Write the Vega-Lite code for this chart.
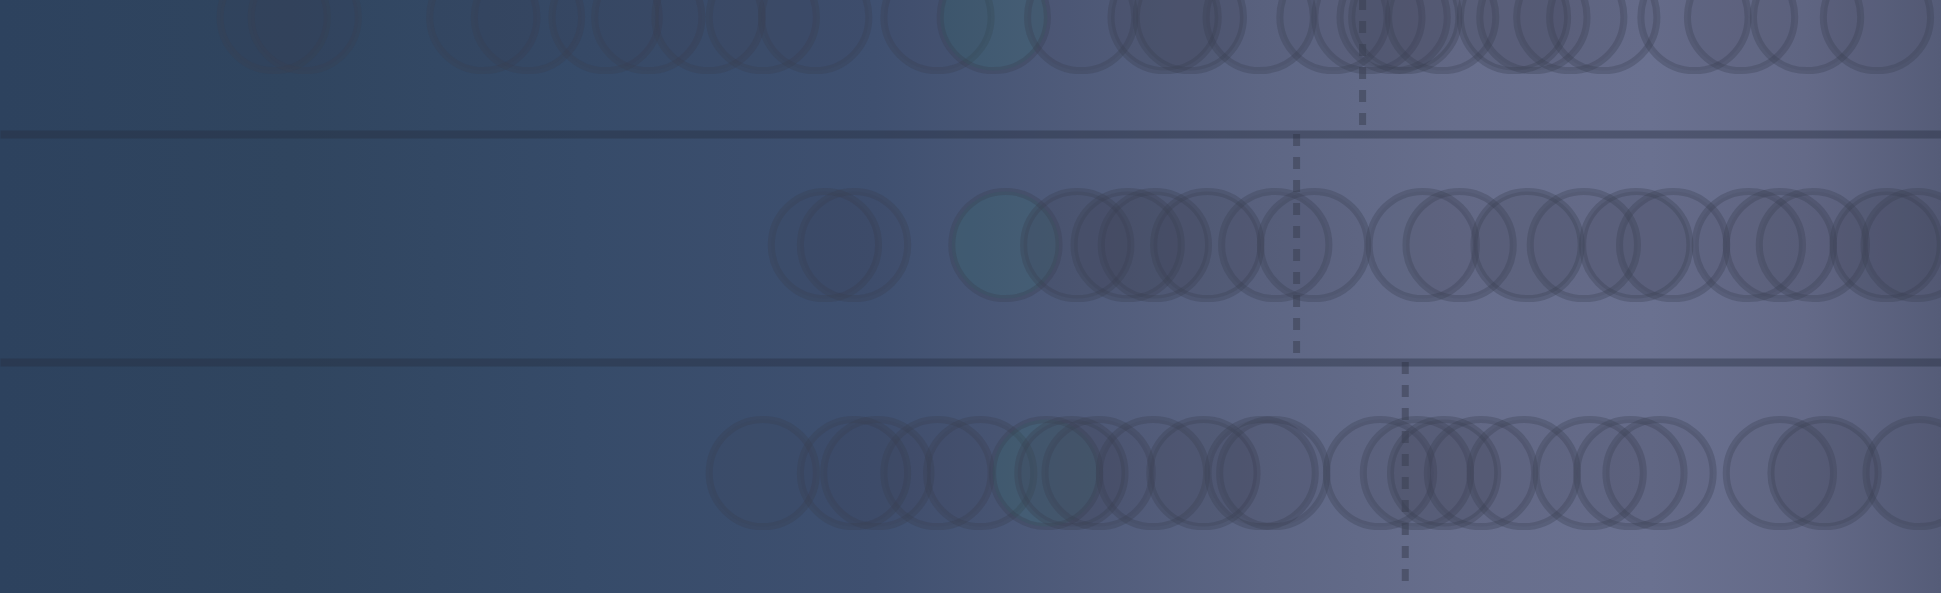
{
  "$schema": "https://vega.github.io/schema/vega-lite/v6.json",
  "autosize": {"type": "none"},
  "width": 1941,
  "height": 593,
  "padding": 0,
  "background": "#2e4360",
  "config": {"view": {"stroke": null}},
  "datasets": {
    "dots": [
      {"row": "A", "value": 14.1, "tone": "light"},
      {"row": "A", "value": 15.7, "tone": "light"},
      {"row": "A", "value": 24.9, "tone": "light"},
      {"row": "A", "value": 27.2, "tone": "light"},
      {"row": "A", "value": 31.2, "tone": "light"},
      {"row": "A", "value": 33.4, "tone": "light"},
      {"row": "A", "value": 36.5, "tone": "light"},
      {"row": "A", "value": 39.3, "tone": "light"},
      {"row": "A", "value": 42.0, "tone": "light"},
      {"row": "A", "value": 48.3, "tone": "light"},
      {"row": "A", "value": 51.2, "tone": "teal"},
      {"row": "A", "value": 55.7, "tone": "light"},
      {"row": "A", "value": 60.0, "tone": "dark"},
      {"row": "A", "value": 61.3, "tone": "dark"},
      {"row": "A", "value": 64.9, "tone": "light"},
      {"row": "A", "value": 68.7, "tone": "light"},
      {"row": "A", "value": 70.5, "tone": "light"},
      {"row": "A", "value": 71.8, "tone": "light"},
      {"row": "A", "value": 72.4, "tone": "dark"},
      {"row": "A", "value": 74.3, "tone": "light"},
      {"row": "A", "value": 78.0, "tone": "dark"},
      {"row": "A", "value": 79.0, "tone": "light"},
      {"row": "A", "value": 80.9, "tone": "light"},
      {"row": "A", "value": 82.6, "tone": "light"},
      {"row": "A", "value": 87.3, "tone": "light"},
      {"row": "A", "value": 89.7, "tone": "light"},
      {"row": "A", "value": 93.1, "tone": "light"},
      {"row": "A", "value": 96.7, "tone": "light"},
      {"row": "B", "value": 42.5, "tone": "light"},
      {"row": "B", "value": 44.0, "tone": "light"},
      {"row": "B", "value": 51.8, "tone": "teal"},
      {"row": "B", "value": 55.5, "tone": "dark"},
      {"row": "B", "value": 58.1, "tone": "dark"},
      {"row": "B", "value": 59.5, "tone": "dark"},
      {"row": "B", "value": 62.2, "tone": "dark"},
      {"row": "B", "value": 65.7, "tone": "light"},
      {"row": "B", "value": 67.7, "tone": "light"},
      {"row": "B", "value": 73.3, "tone": "light"},
      {"row": "B", "value": 75.2, "tone": "light"},
      {"row": "B", "value": 78.7, "tone": "dark"},
      {"row": "B", "value": 81.6, "tone": "light"},
      {"row": "B", "value": 84.3, "tone": "dark"},
      {"row": "B", "value": 86.2, "tone": "light"},
      {"row": "B", "value": 90.1, "tone": "light"},
      {"row": "B", "value": 91.7, "tone": "light"},
      {"row": "B", "value": 93.4, "tone": "light"},
      {"row": "B", "value": 97.2, "tone": "dark"},
      {"row": "B", "value": 98.8, "tone": "light"},
      {"row": "C", "value": 39.3, "tone": "light"},
      {"row": "C", "value": 44.0, "tone": "light"},
      {"row": "C", "value": 45.2, "tone": "light"},
      {"row": "C", "value": 48.3, "tone": "light"},
      {"row": "C", "value": 50.5, "tone": "light"},
      {"row": "C", "value": 53.9, "tone": "teal"},
      {"row": "C", "value": 55.2, "tone": "dark"},
      {"row": "C", "value": 56.6, "tone": "light"},
      {"row": "C", "value": 59.4, "tone": "light"},
      {"row": "C", "value": 62.0, "tone": "dark"},
      {"row": "C", "value": 65.0, "tone": "light"},
      {"row": "C", "value": 65.6, "tone": "light"},
      {"row": "C", "value": 71.1, "tone": "light"},
      {"row": "C", "value": 73.0, "tone": "light"},
      {"row": "C", "value": 74.4, "tone": "dark"},
      {"row": "C", "value": 76.3, "tone": "light"},
      {"row": "C", "value": 78.5, "tone": "light"},
      {"row": "C", "value": 81.9, "tone": "light"},
      {"row": "C", "value": 84.0, "tone": "light"},
      {"row": "C", "value": 85.5, "tone": "light"},
      {"row": "C", "value": 91.7, "tone": "light"},
      {"row": "C", "value": 94.0, "tone": "dark"},
      {"row": "C", "value": 98.9, "tone": "light"}
    ],
    "marks": [
      {"row": "A", "value": 70.2},
      {"row": "B", "value": 66.8},
      {"row": "C", "value": 72.4}
    ]
  },
  "layer": [
    {
      "data": {"values": [{}]},
      "mark": {
        "type": "rect",
        "fill": {
          "gradient": "linear",
          "x1": 0, "y1": 0, "x2": 1, "y2": 0,
          "stops": [
            {"offset": 0, "color": "#2d425e"},
            {"offset": 0.15, "color": "#30455f"},
            {"offset": 0.3, "color": "#364b69"},
            {"offset": 0.45, "color": "#3f5070"},
            {"offset": 0.55, "color": "#4f5b7a"},
            {"offset": 0.65, "color": "#5d6684"},
            {"offset": 0.75, "color": "#676e8c"},
            {"offset": 0.85, "color": "#6a7190"},
            {"offset": 0.93, "color": "#646a88"},
            {"offset": 1, "color": "#555c78"}
          ]
        }
      },
      "encoding": {}
    },
    {
      "data": {"name": "dots"},
      "mark": {"type": "point", "filled": true, "opacity": 1, "stroke": "#3a3f52", "strokeWidth": 7, "strokeOpacity": 0.33, "size": 11500, "yOffset": -3},
      "encoding": {
        "x": {"field": "value", "type": "quantitative", "scale": {"domain": [0, 100], "nice": false, "zero": false}, "axis": null},
        "y": {
          "field": "row", "type": "nominal",
          "scale": {"domain": ["A", "B", "C"], "range": [-94, 590], "paddingInner": 0, "paddingOuter": 0},
          "axis": {"grid": true, "bandPosition": 0, "zindex": 1, "gridColor": "#262d3e", "gridOpacity": 0.4, "gridWidth": 8, "domain": false, "ticks": false, "labels": false, "title": null}
        },
        "fill": {
          "field": "tone", "type": "nominal", "legend": null,
          "scale": {"domain": ["light", "dark", "teal"], "range": ["rgba(58,63,82,0.1)", "rgba(58,63,82,0.25)", "rgba(40,110,100,0.2)"]}
        }
      }
    },
    {
      "data": {"name": "marks"},
      "mark": {"type": "rule", "color": "#3a3f52", "opacity": 0.55, "strokeWidth": 7, "strokeDash": [12, 11]},
      "encoding": {
        "x": {"field": "value", "type": "quantitative"},
        "y": {"field": "row", "type": "nominal", "bandPosition": 0},
        "y2": {"field": "row", "bandPosition": 1}
      }
    }
  ]
}
